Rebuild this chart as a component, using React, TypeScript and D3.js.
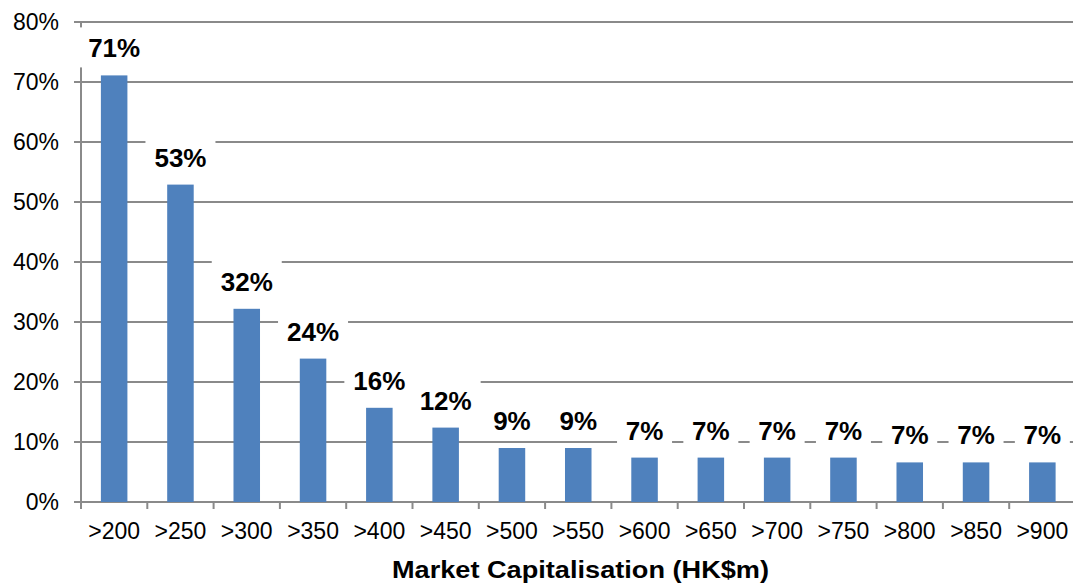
import * as d3 from "d3";

const categories = [">200", ">250", ">300", ">350", ">400", ">450", ">500", ">550", ">600", ">650", ">700", ">750", ">800", ">850", ">900"];
const shares = [71.1, 52.9, 32.2, 23.9, 15.7, 12.4, 9.0, 9.0, 7.4, 7.4, 7.4, 7.4, 6.6, 6.6, 6.6];
const yTicks = [0, 10, 20, 30, 40, 50, 60, 70, 80];
const xTitle = "Market Capitalisation (HK$m)";

const width = 1073;
const height = 585;
const margin = { top: 22, right: -2.5, bottom: 83, left: 81 };
const font = "'Liberation Sans', Arial, sans-serif";
const gridColor = "#8a8a8a";

export default function App() {
  const innerBottom = height - margin.bottom;
  const innerRight = width - margin.right;

  const x = d3.scaleBand<string>().domain(categories).range([margin.left, innerRight]).paddingInner(0.6).paddingOuter(0.3);
  const band = d3.scaleBand<string>().domain(categories).range([margin.left, innerRight]);
  const y = d3.scaleLinear().domain([0, 80]).range([innerBottom, margin.top]);

  const boundaries = [...categories.map((c) => band(c) ?? 0), innerRight];

  return (
    <svg width={width} height={height} style={{ position: "absolute", left: 0, top: 0, background: "#fff" }}>
      {/* gridlines */}
      {yTicks.slice(1).map((t) => (
        <line key={t} x1={margin.left} x2={innerRight} y1={y(t)} y2={y(t)} stroke={gridColor} strokeWidth={2} />
      ))}

      {/* y axis */}
      <line x1={margin.left} x2={margin.left} y1={margin.top} y2={innerBottom} stroke={gridColor} strokeWidth={2} />
      {yTicks.map((t) => (
        <g key={t}>
          <line x1={margin.left - 7} x2={margin.left} y1={y(t)} y2={y(t)} stroke={gridColor} strokeWidth={2} />
          <text x={59} y={y(t) + 8} textAnchor="end" fontFamily={font} fontSize={23} fill="#000">
            {t}%
          </text>
        </g>
      ))}

      {/* x axis */}
      <line x1={margin.left} x2={innerRight} y1={innerBottom} y2={innerBottom} stroke={gridColor} strokeWidth={2} />
      {boundaries.map((b, i) => (
        <line key={i} x1={b} x2={b} y1={innerBottom} y2={innerBottom + 7} stroke={gridColor} strokeWidth={2} />
      ))}
      {categories.map((c) => (
        <text key={c} x={(band(c) ?? 0) + band.bandwidth() / 2} y={538.5} textAnchor="middle" fontFamily={font} fontSize={23} fill="#000">
          {c}
        </text>
      ))}

      {/* bars */}
      {categories.map((c, i) => (
        <rect key={c} x={x(c)} y={y(shares[i])} width={x.bandwidth()} height={innerBottom - y(shares[i])} fill="#4F81BD" />
      ))}

      {/* data labels with white boxes */}
      {categories.map((c, i) => {
        const cx = (band(c) ?? 0) + band.bandwidth() / 2;
        const base = y(shares[i]) - 18;
        const label = `${Math.round(shares[i])}%`;
        const tw = label.length === 2 ? 37 : 52;
        return (
          <g key={c}>
            <rect x={cx - tw / 2 - 9} y={base - 30} width={tw + 18} height={40} fill="#fff" />
            <text x={cx} y={base} textAnchor="middle" fontFamily={font} fontSize={26} fontWeight="bold" fill="#000">
              {label}
            </text>
          </g>
        );
      })}

      {/* axis title */}
      <text x={580.5} y={577.5} textAnchor="middle" fontFamily={font} fontSize={23} fontWeight="bold" fill="#000" textLength={377} lengthAdjust="spacingAndGlyphs">
        {xTitle}
      </text>
    </svg>
  );
}
